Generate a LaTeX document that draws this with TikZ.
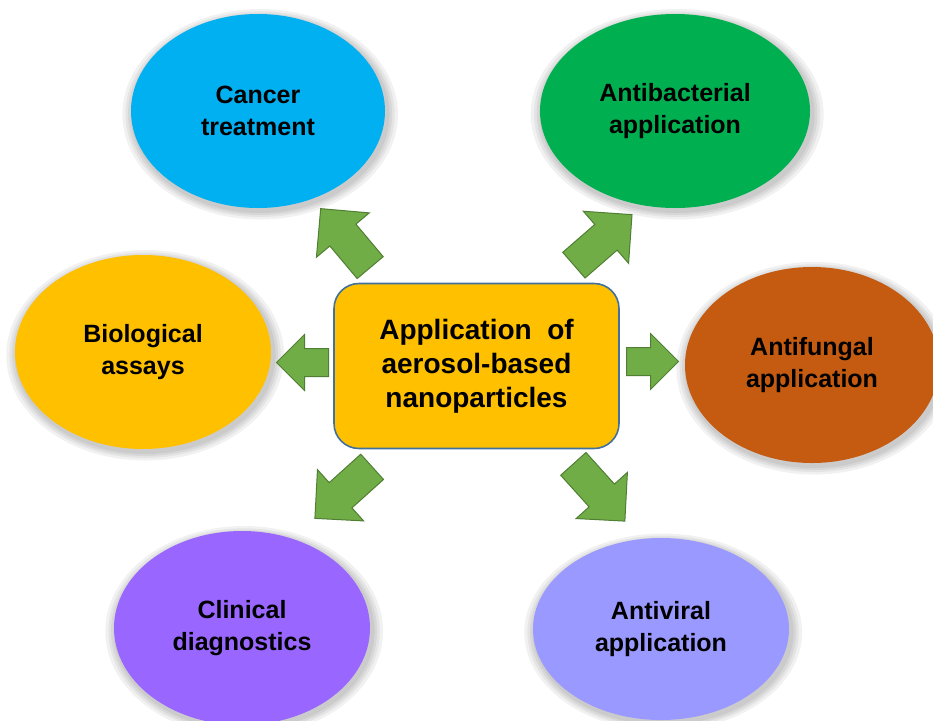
\documentclass[tikz,border=0pt]{standalone}
\usepackage{fontspec}
\setmainfont{Liberation Sans}
\usetikzlibrary{shapes.geometric,shapes.arrows,shadows}
\definecolor{cancerblue}{HTML}{00B0F0}
\definecolor{bactgreen}{HTML}{00B050}
\definecolor{assayyellow}{HTML}{FFC000}
\definecolor{fungusbrown}{HTML}{C55A11}
\definecolor{clinicviolet}{HTML}{9966FF}
\definecolor{viruslilac}{HTML}{9999FF}
\definecolor{arrowgreen}{HTML}{70AD47}
\definecolor{arrowedge}{HTML}{507E32}
\definecolor{coreedge}{HTML}{41719C}
\begin{document}
\begin{tikzpicture}[x=1pt, y=-1pt,
		halo/.style={general shadow={fill=black, opacity=.055, shadow scale=#1, shadow xshift=2pt, shadow yshift=-3pt}},
		bubble/.style={ellipse, inner sep=0pt, align=center, font=\fontsize{25}{32}\selectfont\bfseries,
			halo=1.085, halo=1.06, halo=1.04, halo=1.02},
		blockarrow/.style={single arrow, draw=arrowedge, fill=arrowgreen, line width=1pt, inner xsep=0pt, inner ysep=16.5pt,
			anchor=tail, single arrow tip angle=90, single arrow head extend=17.5pt, minimum height=77pt},
		sidearrow/.style={blockarrow, inner ysep=13.5pt, single arrow head extend=14pt, minimum height=52pt}]
		\useasboundingbox (0,0) rectangle (933,720);
		\node (cancer) at (258,111) [bubble, fill=cancerblue, minimum width=254pt, minimum height=194pt] {Cancer\\treatment};
		\node (antibac) at (675,111) [bubble, fill=bactgreen, minimum width=270pt, minimum height=194pt] {Antibacterial\\application};
		\node (bioassay) at (143,352) [bubble, fill=assayyellow, minimum width=256pt, minimum height=194pt] {Biological\\assays};
		\node (antifungal) at (812,365) [bubble, fill=fungusbrown, minimum width=254pt, minimum height=196pt] {Antifungal\\application};
		\node (clinical) at (242,628) [bubble, fill=clinicviolet, minimum width=256pt, minimum height=194pt] {Clinical\\diagnostics};
		\node (antiviral) at (661,629) [bubble, fill=viruslilac, minimum width=256pt, minimum height=182pt] {Antiviral\\application};
		% centre box
		\node (core) at (476.5,366) [rectangle, rounded corners=25pt, draw=coreedge, line width=1.6pt, fill=assayyellow,
			minimum width=285pt, minimum height=165pt, align=center, font=\fontsize{28}{34}\selectfont\bfseries]
			{Application\ \ of\\aerosol-based\\nanoparticles};
		% block arrows
		\node (arrUL) at (370.5,268) [blockarrow, rotate=130] {};
		\node (arrUR) at (573.5,265.5) [blockarrow, rotate=41] {};
		\node (arrL) at (329,362.5) [sidearrow, rotate=180] {};
		\node (arrR) at (626,361.5) [sidearrow] {};
		\node (arrLL) at (372.5,466.5) [blockarrow, rotate=222] {};
		\node (arrLR) at (573,463.5) [blockarrow, rotate=-48] {};
	\end{tikzpicture}
\end{document}
